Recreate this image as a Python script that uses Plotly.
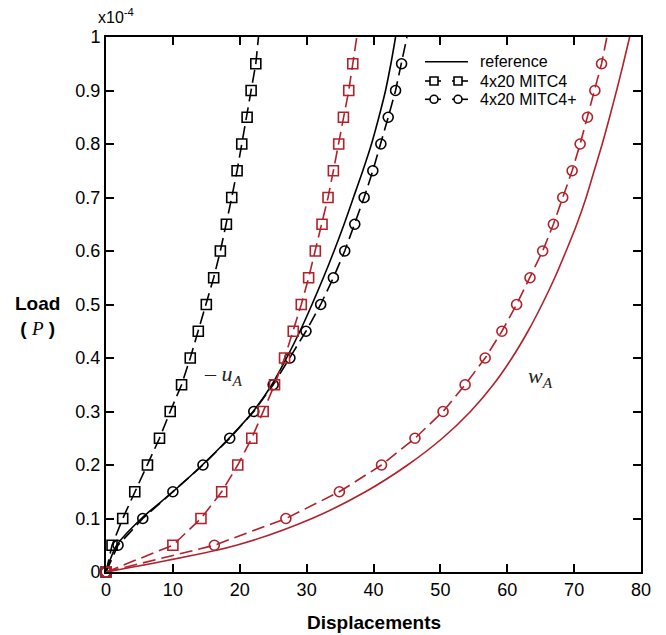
import plotly.graph_objects as go

# ---------------- data ----------------
loads = [0.0, 0.05, 0.1, 0.15, 0.2, 0.25, 0.3, 0.35, 0.4, 0.45, 0.5,
         0.55, 0.6, 0.65, 0.7, 0.75, 0.8, 0.85, 0.9, 0.95]

# u_A
uA_mitc4 = [0.0, 0.9, 2.5, 4.3, 6.2, 8.0, 9.6, 11.3, 12.6, 13.8, 15.0,
            16.1, 17.1, 18.0, 18.8, 19.6, 20.3, 21.1, 21.7, 22.4]
uA_mitc4_top = 22.8
uA_mitc4p = [0.0, 1.8, 5.5, 10.0, 14.5, 18.5, 22.1, 25.0, 27.5, 29.9, 32.1,
             34.0, 35.7, 37.2, 38.6, 39.9, 41.1, 42.2, 43.3, 44.2]
uA_mitc4p_top = 45.0

ref_loads = [0.0, 0.05, 0.1, 0.15, 0.2, 0.25, 0.3, 0.35, 0.4, 0.45, 0.5,
             0.55, 0.6, 0.65, 0.7, 0.75, 0.8, 0.85, 0.9, 0.95, 1.0]
uA_ref = [0.0, 1.6, 5.3, 10.0, 14.4, 18.4, 22.0, 24.8, 27.0, 29.0, 30.8,
          32.5, 34.1, 35.6, 37.0, 38.4, 39.7, 40.8, 41.8, 42.6, 43.3]

# w_A
wA_mitc4 = [0.0, 10.0, 14.2, 17.3, 19.7, 21.8, 23.5, 25.2, 26.7, 28.0, 29.2,
            30.3, 31.3, 32.3, 33.2, 34.0, 34.8, 35.5, 36.3, 36.9]
wA_mitc4_top = 37.5
wA_mitc4p = [0.0, 16.2, 26.9, 34.9, 41.2, 46.2, 50.4, 53.7, 56.7, 59.2, 61.4,
             63.4, 65.3, 66.9, 68.3, 69.7, 70.9, 72.0, 73.1, 74.1]
wA_mitc4p_top = 74.9
wA_ref = [0.0, 19.5, 30.8, 38.8, 45.1, 50.3, 54.5, 57.9, 60.7, 63.1, 65.2,
          67.1, 68.8, 70.4, 71.8, 73.0, 74.2, 75.3, 76.35, 77.35, 78.3]

x_ticks = [0, 10, 20, 30, 40, 50, 60, 70, 80]
y_ticks = [0, 0.1, 0.2, 0.3, 0.4, 0.5, 0.6, 0.7, 0.8, 0.9, 1.0]
y_ticklabels = ["0", "0.1", "0.2", "0.3", "0.4", "0.5", "0.6", "0.7", "0.8", "0.9", "1"]
legend_names = ["reference", "4x20 MITC4", "4x20 MITC4+"]

BLACK = "#000000"
RED = "#B3202A"
DASH = "13px,6px"
FONT = "Liberation Sans, Arial, sans-serif"
SERIF = "Liberation Serif, Times New Roman, serif"

W, H = 666, 635
ML, MR, MT, MB = 106, 25, 37, 63
PW, PH = W - ML - MR, H - MT - MB


def px(xp):
    return (xp - ML) / PW


def py(yp):
    return (H - MB - yp) / PH


fig = go.Figure()


def add_fe(xs, top, color, symbol):
    fig.add_trace(go.Scatter(
        x=xs + [top], y=loads + [1.0], mode="lines",
        line=dict(color=color, width=1.6, dash=DASH),
        showlegend=False, hoverinfo="skip"))
    fig.add_trace(go.Scatter(
        x=xs, y=loads, mode="markers",
        marker=dict(symbol=symbol, size=10, color=color,
                    line=dict(color=color, width=1.6)),
        showlegend=False, cliponaxis=False))


fig.add_trace(go.Scatter(x=uA_ref, y=ref_loads, mode="lines",
                         line=dict(color=BLACK, width=1.6, shape="spline", smoothing=0.8),
                         showlegend=False))
fig.add_trace(go.Scatter(x=wA_ref, y=ref_loads, mode="lines",
                         line=dict(color=RED, width=1.6, shape="spline", smoothing=0.8),
                         showlegend=False))
add_fe(uA_mitc4, uA_mitc4_top, BLACK, "square-open")
add_fe(uA_mitc4p, uA_mitc4p_top, BLACK, "circle-open")
add_fe(wA_mitc4, wA_mitc4_top, RED, "square-open")
add_fe(wA_mitc4p, wA_mitc4p_top, RED, "circle-open")

fig.update_layout(
    width=W, height=H,
    margin=dict(l=ML, r=MR, t=MT, b=MB),
    paper_bgcolor="white", plot_bgcolor="white",
    font=dict(family=FONT, size=16, color="black"),
    showlegend=False,
    xaxis=dict(range=[0, 80], tickvals=x_ticks, ticks="inside", ticklen=8,
               tickwidth=1.5, tickcolor="black", showline=True, linecolor="black",
               linewidth=2, mirror="ticks", showgrid=False, zeroline=False,
               tickfont=dict(size=18, family=FONT)),
    yaxis=dict(range=[0, 1], tickvals=y_ticks, ticktext=y_ticklabels,
               ticks="inside", ticklen=8,
               tickwidth=1.5, tickcolor="black", showline=True, linecolor="black",
               linewidth=2, mirror="ticks", showgrid=False, zeroline=False,
               tickfont=dict(size=18, family=FONT)),
)

# ----- legend drawn manually (compact row spacing like the reference) -----
rows_y = [61.7, 81.0, 99.3]
lx0, lx1, ltext = 425, 468, 478
m1, m2 = 434, 458
lw = 1.6
fig.add_shape(type="line", xref="paper", yref="paper", x0=px(lx0), x1=px(lx1),
              y0=py(rows_y[0]), y1=py(rows_y[0]), line=dict(color=BLACK, width=lw))
for r, kind in [(1, "rect"), (2, "circle")]:
    yy = py(rows_y[r])
    fig.add_shape(type="line", xref="paper", yref="paper", x0=px(lx0), x1=px(441),
                  y0=yy, y1=yy, line=dict(color=BLACK, width=lw))
    fig.add_shape(type="line", xref="paper", yref="paper", x0=px(452), x1=px(lx1),
                  y0=yy, y1=yy, line=dict(color=BLACK, width=lw))
    for mx in (m1, m2):
        fig.add_shape(type=kind, xref="paper", yref="paper",
                      xsizemode="pixel", ysizemode="pixel",
                      xanchor=px(mx), yanchor=yy, x0=-4, x1=4, y0=-4, y1=4,
                      line=dict(color=BLACK, width=lw), fillcolor="white")
for r, name in enumerate(legend_names):
    fig.add_annotation(xref="paper", yref="paper", x=px(ltext), y=py(rows_y[r]),
                       xanchor="left", yanchor="middle", text=name,
                       showarrow=False, font=dict(size=16, family=FONT))

fig.add_annotation(xref="paper", yref="paper", x=0.5, y=py(622), yanchor="middle",
                   text="<b>Displacements</b>", showarrow=False,
                   font=dict(size=19, family=FONT))
fig.add_annotation(xref="paper", yref="paper", x=px(62), y=py(316), xanchor="right",
                   yanchor="middle", align="center",
                   text="<b>Load</b><br><b>(</b> <span style='font-family:Liberation Serif;font-style:italic'>P</span> <b>)</b>",
                   showarrow=False, font=dict(size=19, family=FONT))
fig.add_annotation(xref="paper", yref="paper", x=px(96), y=py(28), xanchor="left",
                   yanchor="bottom", text="x10<sup>-4</sup>", showarrow=False,
                   font=dict(size=16, family=FONT))
fig.add_annotation(x=14.4, y=0.368, xanchor="left", yanchor="middle",
                   text="– <i>u</i><sub><i>A</i></sub>", showarrow=False,
                   font=dict(size=22, family=SERIF, color="#222"))
fig.add_annotation(x=62.8, y=0.365, xanchor="left", yanchor="middle",
                   text="<i>w</i><sub><i>A</i></sub>", showarrow=False,
                   font=dict(size=22, family=SERIF, color="#222"))

fig.write_html("out.html")
